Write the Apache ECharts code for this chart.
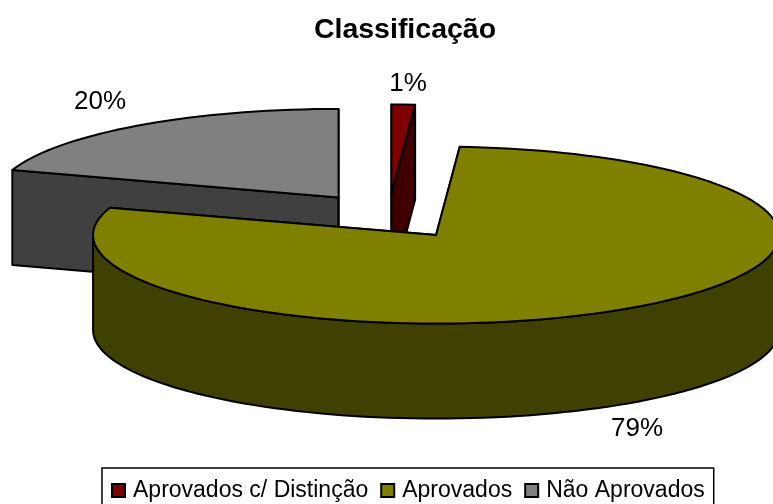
<!DOCTYPE html>
<html>
<head>
<meta charset="utf-8">
<title>Classificação</title>
<style>
  html, body { margin: 0; padding: 0; background: #fff; }
  #chart { width: 773px; height: 504px; }
</style>
<script src="https://cdn.jsdelivr.net/npm/echarts@6/dist/echarts.min.js"></script>
</head>
<body>
<div id="chart"></div>
<script>
var titleText = 'Classificação';
var categories = ['Aprovados c/ Distinção', 'Aprovados', 'Não Aprovados'];
var shares = [1.1, 78.9, 20];
var topColors = ['#800000', '#808000', '#808080'];
var wallColors = ['#400000', '#404000', '#404040'];

// 3D pie layout, the tilt is just the ellipse rx/ry
var cx = 388.5, cy = 216, rx = 343, ry = 88.5, depth = 95;
var explode = 85, explodeY = 23;
// label position per slice
var labelPos = [[408, 84], [637, 429], [100, 102]];

var total = shares.reduce(function (a, b) { return a + b; }, 0);

function point(c, deg, dy) {
  var a = deg * Math.PI / 180;
  return [c[0] + rx * Math.sin(a), c[1] - ry * Math.cos(a) + (dy || 0)];
}

function arcPoints(c, from, to, dy) {
  var pts = [];
  var n = Math.max(2, Math.ceil((to - from) / 2));
  for (var i = 0; i <= n; i++) {
    pts.push(point(c, from + (to - from) * i / n, dy));
  }
  return pts;
}

function face(points, color) {
  return {
    type: 'polygon',
    shape: { points: points },
    style: { fill: color, stroke: '#000', lineWidth: 2, lineJoin: 'round' }
  };
}

function makeRender(index) {
  return function (params, api) {
    var before = 0;
    for (var i = 0; i < index; i++) before += shares[i];
    var start = before / total * 360;
    var end = start + api.value(0) / total * 360;
    var mid = (start + end) / 2 * Math.PI / 180;
    // each slice is pushed out along its own middle angle
    var c = [cx + explode * Math.sin(mid), cy - explodeY * Math.cos(mid)];
    var top = topColors[index], wall = wallColors[index];
    var children = [];

    // cut faces first, whatever is hidden gets painted over
    [start, end].forEach(function (deg) {
      var p = point(c, deg);
      children.push(face([c, p, [p[0], p[1] + depth], [c[0], c[1] + depth]], wall));
    });

    // outer wall, only the part facing front
    var from = Math.max(start, 90), to = Math.min(end, 270);
    if (to > from) {
      var upper = arcPoints(c, from, to);
      var lower = arcPoints(c, from, to, depth).reverse();
      children.push(face(upper.concat(lower), wall));
    }

    children.push(face([c].concat(arcPoints(c, start, end)), top));

    children.push({
      type: 'text',
      style: {
        x: labelPos[index][0],
        y: labelPos[index][1],
        text: Math.round(api.value(0)) + '%',
        fill: '#000',
        font: '26px "Liberation Sans", Arial, sans-serif',
        align: 'center',
        verticalAlign: 'middle'
      }
    });
    return { type: 'group', children: children };
  };
}

var series = [];
for (var k = 0; k < categories.length; k++) {
  series.push({
    name: categories[k],
    type: 'custom',
    coordinateSystem: 'none',
    silent: true,
    animation: false,
    z: k == 1 ? 3 : 2,
    itemStyle: { color: topColors[k] },
    renderItem: makeRender(k),
    data: [[shares[k]]]
  });
}

var chart = echarts.init(document.getElementById('chart'), null, { renderer: 'canvas' });
chart.setOption({
  backgroundColor: '#fff',
  animation: false,
  title: {
    text: titleText,
    left: 400,
    top: 11,
    textAlign: 'center',
    textVerticalAlign: 'top',
    textStyle: { fontFamily: '"Liberation Sans", Arial, sans-serif', fontSize: 28.5, fontWeight: 'bold', color: '#000' }
  },
  legend: {
    data: categories,
    left: 102,
    top: 468,
    orient: 'horizontal',
    icon: 'rect',
    itemWidth: 13,
    itemHeight: 13,
    itemGap: 12,
    padding: [11, 9, 10, 9],
    borderColor: '#000',
    borderWidth: 1.5,
    selectedMode: false,
    itemStyle: { borderColor: '#000', borderWidth: 2 },
    textStyle: { fontFamily: '"Liberation Sans", Arial, sans-serif', fontSize: 23, color: '#000', padding: [0, 0, 0, 3] }
  },
  series: series
});
</script>
</body>
</html>
